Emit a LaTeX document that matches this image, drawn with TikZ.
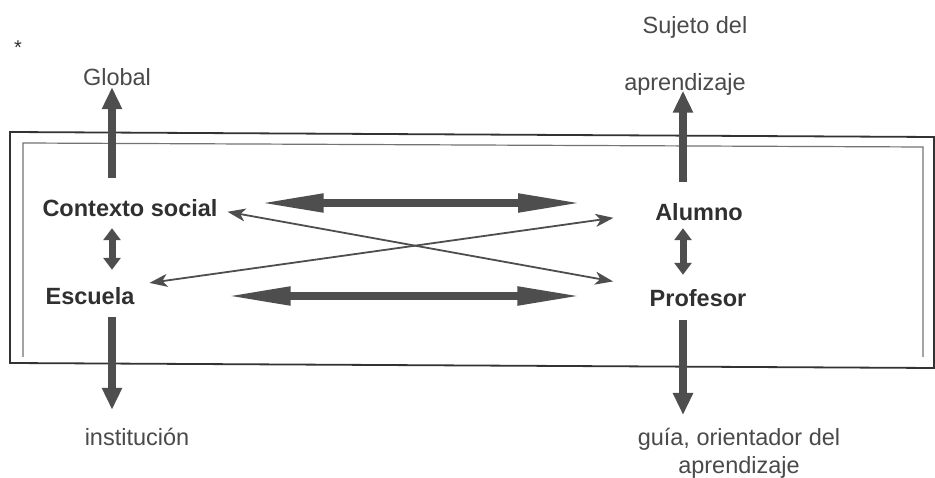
\documentclass[tikz,border=0pt]{standalone}
\usepackage{fontspec}
\setmainfont{Liberation Sans}
\usetikzlibrary{arrows.meta}
\definecolor{txtdark}{HTML}{303030}
\definecolor{txtreg}{HTML}{4A4A4A}
\definecolor{arrcol}{HTML}{4E4E4E}
\begin{document}
\begin{tikzpicture}[x=1pt,y=-1pt,
  lbl/.style={inner sep=0pt, text height=17pt, text depth=0pt, font=\fontsize{23.5}{28}\selectfont},
  boldlbl/.style={lbl, text=txtdark, font=\fontsize{23.5}{28}\selectfont\bfseries},
  reglbl/.style={lbl, text=txtreg},
  vbig/.style={arrcol, line width=8pt, -{Triangle[length=22pt,width=19pt]}},
  vdouble/.style={arrcol, line width=7pt, {Triangle[length=12pt,width=17pt]}-{Triangle[length=12pt,width=17pt]}},
  hbig/.style={arrcol, line width=8pt, {Triangle[length=66pt,width=17pt]}-{Triangle[length=66pt,width=17pt]}},
  thin/.style={arrcol, line width=1.8pt, {Stealth[length=18pt,width=13pt,inset=5pt]}-{Stealth[length=18pt,width=13pt,inset=5pt]}},
  frameout/.style={draw=black!80, line width=1.8pt},
  framein/.style={draw=black!55, line width=1.2pt}]
\useasboundingbox (0,0) rectangle (935,478);
\fill[white] (0,0) rectangle (935,478);

% frame
\draw[frameout] (10,132) -- (934,137) -- (934,368) -- (10,363) -- cycle;
\draw[framein] (23,357) -- (23,143) -- (923,147) -- (923,357);

% star
\node[inner sep=0pt, text=txtdark, font=\fontsize{20}{22}\selectfont] (star) at (18,48) {*};

% labels
\node[boldlbl] (ctx) at (130,208) {Contexto social};
\node[boldlbl] (esc) at (90,296) {Escuela};
\node[boldlbl] (alu) at (699,212) {Alumno};
\node[boldlbl] (pro) at (698,298) {Profesor};
\node[reglbl] (glob) at (117,77) {Global};
\node[reglbl] (suj) at (695,25) {Sujeto del};
\node[reglbl] (apr) at (685,82) {aprendizaje};
\node[reglbl] (inst) at (137,437) {institución};
\node[inner sep=0pt, text=txtreg, font=\fontsize{23.5}{28}\selectfont, align=center, anchor=north] (guia) at (739,428) {guía, orientador del\\aprendizaje};

\coordinate (colL) at (112,0);
\coordinate (colR) at (683,0);

% vertical arrows
\draw[vbig, shorten <=21.5pt, shorten >=1.5pt] (ctx.north -| colL) -- (glob.south -| colL);
\draw[vbig, shorten <=21.5pt] (alu.north -| colR) -- (apr.south -| colR);
\draw[vdouble, shorten <=11.5pt, shorten >=17.5pt] (ctx.south -| colL) -- (esc.north -| colL);
\draw[vdouble, shorten <=7.5pt, shorten >=14.5pt] (alu.south -| colR) -- (pro.north -| colR);
\draw[vbig, shorten <=12.5pt, shorten >=18.5pt] (esc.south -| colL) -- (inst.north -| colL);
\draw[vbig, shorten <=13.5pt, shorten >=13pt] (pro.south -| colR) -- (guia.north -| colR);

% horizontal arrows
\draw[hbig, shorten <=40pt, shorten >=71pt] ([yshift=5pt]ctx.east) -- ([yshift=9pt]alu.west);
\draw[hbig, shorten <=90pt, shorten >=66pt] (esc.east) -- ([yshift=2pt]pro.west);

% crossing thin arrows
\draw[thin, shorten <=10pt, shorten >=37pt] ([yshift=-2pt]ctx.east) -- ([yshift=10pt]pro.west);
\draw[thin, shorten <=15pt, shorten >=42pt] ([yshift=11pt]esc.east) -- (alu.west);
\end{tikzpicture}
\end{document}
